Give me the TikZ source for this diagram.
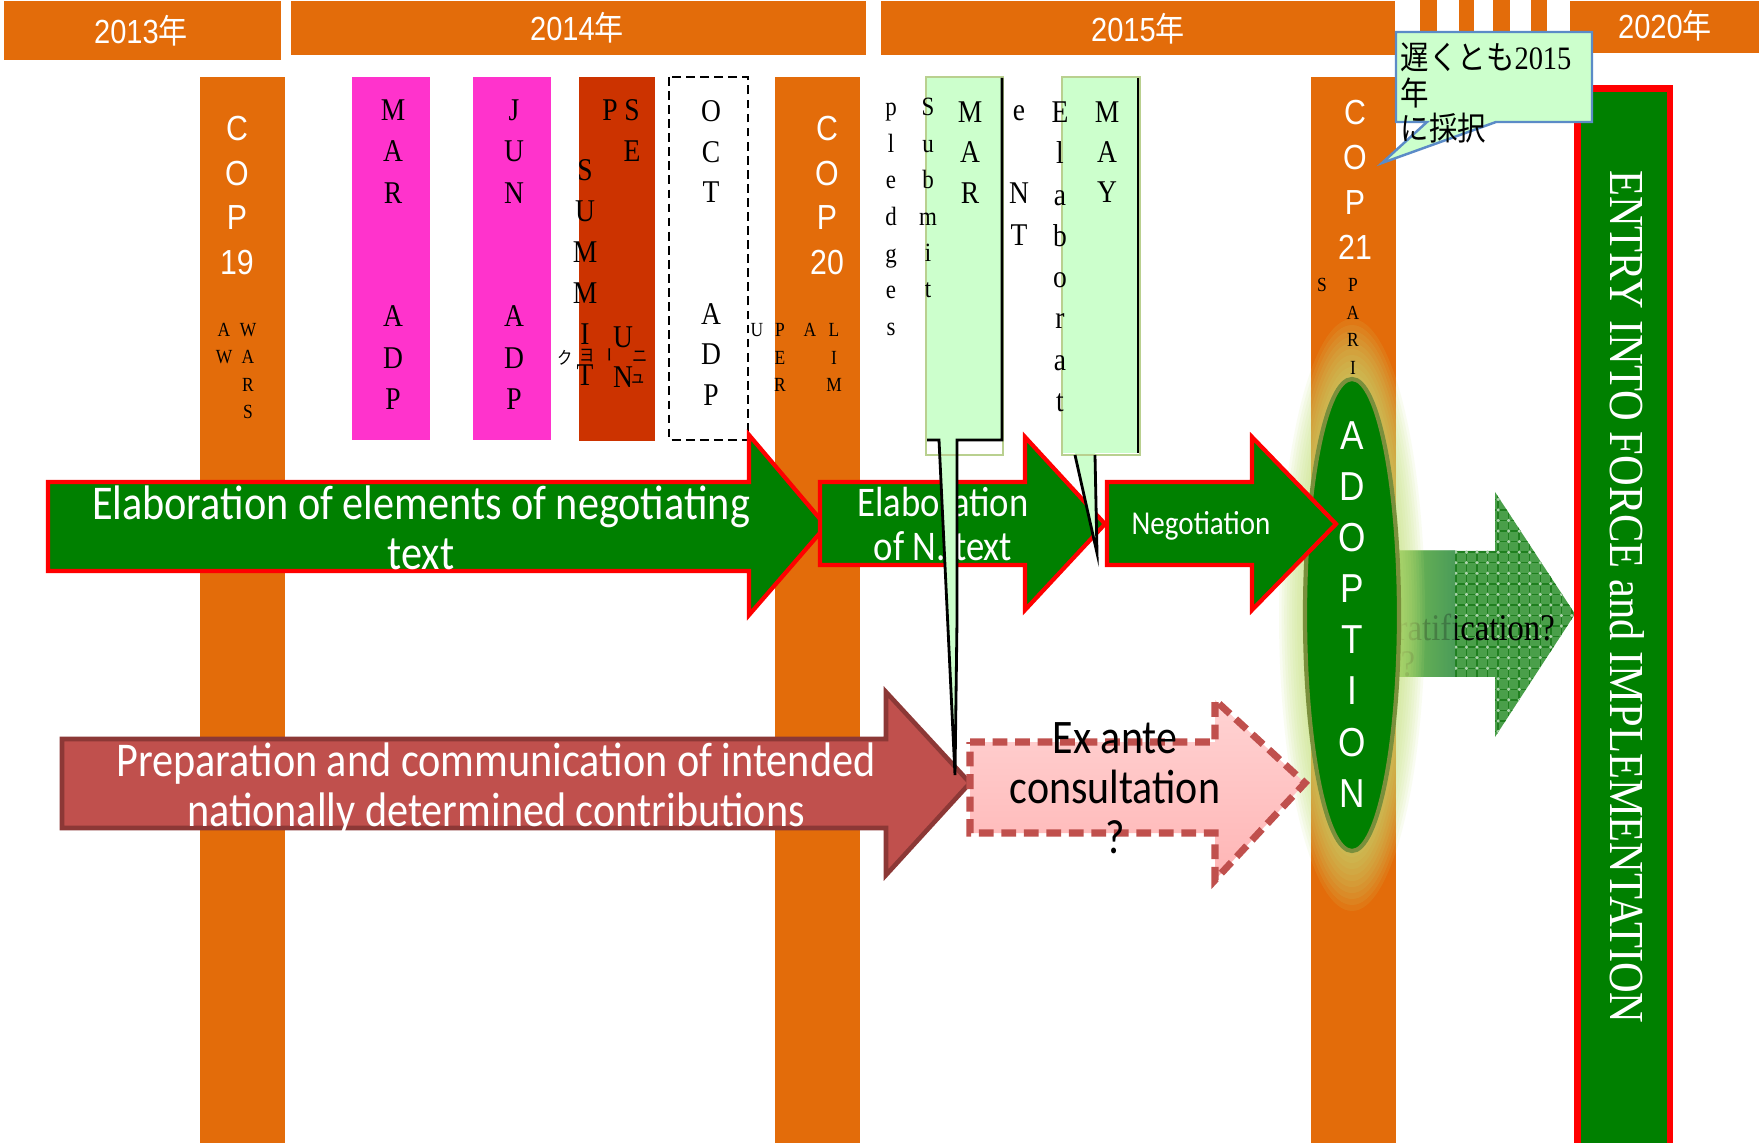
\documentclass[tikz,border=0pt]{standalone}
\usepackage{fontspec}
\setmainfont{Liberation Serif}[FakeStretch=0.87]
\newfontfamily\sansf{Liberation Sans}[FakeStretch=0.87]
\newfontfamily\calib{Carlito}[FakeStretch=0.87]
\newfontfamily\jpf{Noto Sans CJK JP}[FakeStretch=0.87]
\usetikzlibrary{patterns}

\definecolor{barorange}{HTML}{E36C0A}
\definecolor{adppink}{HTML}{FF33CC}
\definecolor{summitred}{HTML}{CC3300}
\definecolor{dkgreen}{HTML}{008000}
\definecolor{paleg}{HTML}{CCFFCC}
\definecolor{calloutrim}{HTML}{B9D08F}
\definecolor{indcred}{HTML}{C0504D}
\definecolor{indcedge}{HTML}{8C3836}
\definecolor{noteblue}{HTML}{5B8BC7}
\definecolor{ellrim}{HTML}{7A8F3C}
\definecolor{glowg}{HTML}{C6E37A}
\definecolor{ratgreen}{HTML}{4A9F4A}
\definecolor{gridgreen}{HTML}{1F7F1F}
\definecolor{ratlight}{HTML}{8DCB55}
\definecolor{ratdark}{HTML}{4B9B5E}
\definecolor{pinktop}{HTML}{FFD3D3}
\definecolor{pinkbot}{HTML}{FFB5B5}

% a vertical column of single characters: style, name prefix, x, first baseline, step, list
\newcommand{\lettercol}[6]{%
  \foreach \c [count=\k from 0] in {#6} {\node[#1] (#2\k) at (#3, {#4+\k*#5}) {\c};}}

\begin{document}
\begin{tikzpicture}[x=0.01cm, y=-0.01cm,
  hdr/.style={inner sep=0, anchor=base, text=white, font=\sansf\fontsize{9.5}{11}\selectfont},
  capl/.style={inner sep=0, anchor=base, font=\fontsize{9}{10}\selectfont},
  lowl/.style={inner sep=0, anchor=base, font=\fontsize{7.5}{9}\selectfont},
  tinyl/.style={inner sep=0, anchor=base, font=\fontsize{5.7}{7}\selectfont},
  copl/.style={inner sep=0, anchor=base, text=white, font=\sansf\fontsize{9.9}{11}\selectfont},
  adl/.style={inner sep=0, anchor=base, text=white, font=\sansf\fontsize{11.5}{13}\selectfont},
  cjks/.style={inner sep=0, font=\jpf\fontsize{5}{6}\selectfont},
  greenarrow/.style={fill=dkgreen, draw=red, line width=1.2pt, line join=miter},
  arrowtext/.style={inner sep=0, text=white, align=center},
]
\useasboundingbox (0,0) rectangle (1760,1143);
\fill[white] (0,0) rectangle (1760,1143);

% year headers
\fill[barorange] (4,1) rectangle (281,60);
\fill[barorange] (291,1) rectangle (866,55);
\fill[barorange] (881,1) rectangle (1395,55);
\fill[barorange] (1570,1) rectangle (1759,53);
\foreach \xa/\xb in {1420/1437,1459/1474,1493/1510,1531/1547}
  \fill[barorange] (\xa,0) rectangle (\xb,45);
\node[hdr] (y2013) at (141,44) {2013{\jpf 年}};
\node[hdr] (y2014) at (577,41) {2014{\jpf 年}};
\node[hdr] (y2015) at (1138,42) {2015{\jpf 年}};
\node[hdr] (y2020) at (1665,39) {2020{\jpf 年}};

% COP columns
\fill[barorange] (200,77) rectangle (285,1143);
\fill[barorange] (775,77) rectangle (860,1143);
\fill[barorange] (1311,77) rectangle (1396,1143);

% meeting boxes
\fill[adppink] (352,77) rectangle (430,440);
\fill[adppink] (473,77) rectangle (551,440);
\fill[summitred] (579,77) rectangle (655,441);
\draw[black, line width=0.6pt, dash pattern=on 2.5pt off 1.5pt] (669,77) rectangle (748,440);

% ratification arrow
\fill[ratgreen] (1390,551) -- (1495,551) -- (1495,492) -- (1575,614) -- (1495,737) -- (1495,677) -- (1390,677) -- cycle;
\fill[pattern=grid, pattern color=gridgreen] (1455,551) -- (1495,551) -- (1495,492) -- (1575,614) -- (1495,737) -- (1495,677) -- (1455,677) -- cycle;
\fill[pattern=dots, pattern color=white!55!ratgreen] (1455,551) -- (1495,551) -- (1495,492) -- (1575,614) -- (1495,737) -- (1495,677) -- (1455,677) -- cycle;
\node[inner sep=0, anchor=base west, font=\fontsize{10.7}{12}\selectfont] (ratif) at (1396,640) {ratification?};
\node[inner sep=0, anchor=base west, font=\fontsize{10.7}{12}\selectfont] (ratifq) at (1400,676) {?};
\shade[left color=ratlight, right color=ratdark, fill opacity=0.75] (1390,551) rectangle (1455,677);

% glow and adoption ellipse
\foreach \g in {1,...,10}
  \fill[glowg, opacity=0.1] (1352,615) ellipse ({47+2.6*\g} and {236+6*\g});
\draw[fill=dkgreen, draw=ellrim, line width=1.2pt] (1352,615) ellipse (47 and 236);

% process arrows
\draw[greenarrow] (48,482) -- (749,482) -- (749,435) -- (826,526) -- (749,615) -- (749,571) -- (48,571) -- cycle;
\draw[greenarrow] (820,482) -- (1025,482) -- (1025,437) -- (1105,524) -- (1025,610) -- (1025,565) -- (820,565) -- cycle;
\draw[greenarrow] (1107,482) -- (1252,482) -- (1252,437) -- (1336,524) -- (1252,610) -- (1252,565) -- (1107,565) -- cycle;
\draw[fill=indcred, draw=indcedge, line width=1.3pt, line join=miter] (62,739) -- (886,739) -- (886,692) -- (970,783) -- (886,875) -- (886,828) -- (62,828) -- cycle;
\draw[top color=pinktop, bottom color=pinkbot, draw=indcred, line width=2pt, dash pattern=on 4.2pt off 2.2pt, line join=miter]
  (970,742) -- (1215,742) -- (1215,700) -- (1305,783) -- (1215,880) -- (1215,833) -- (970,833) -- cycle;

\node[arrowtext, font=\calib\fontsize{13.8}{14.2}\selectfont] (elab) at (421,528) {Elaboration of elements of negotiating\\text};
\node[arrowtext, font=\calib\fontsize{12}{12.5}\selectfont] (elabN) at (943,524) {Elaboration\\of N. text};
\node[arrowtext, font=\calib\fontsize{9.5}{11}\selectfont] (nego) at (1201,526) {Negotiation};
\node[arrowtext, font=\calib\fontsize{13.8}{14.2}\selectfont] (indc) at (496,789) {Preparation and communication of intended\\nationally determined contributions};
\node[inner sep=0, align=center, font=\calib\fontsize{13.7}{14.2}\selectfont] (exante) at (1115,788) {Ex ante\\consultation\\?};

% callouts for the March and May sessions
\fill[paleg] (926,77) -- (1002,77) -- (1002,440) -- (957,440) -- (957,620) -- (955,775) -- (939,440) -- (926,440) -- cycle;
\draw[calloutrim, line width=0.8pt] (926,77) rectangle (1003,455);
\draw[black, line width=0.8pt] (1002,78) -- (1002,440) -- (957,440) -- (957,620) -- (955,775) -- (939,440) -- (927,440);
\fill[paleg] (1062,77) -- (1138,77) -- (1138,453) -- (1095,453) -- (1097,553) -- (1075,453) -- (1062,453) -- cycle;
\draw[calloutrim, line width=0.8pt] (1062,77) rectangle (1140,455);
\draw[black, line width=0.8pt] (1138,78) -- (1138,453);
\draw[black, line width=0.8pt] (1075,455) -- (1097,553) -- (1095,455);

% stacked labels
\lettercol{copl}{copA}{237}{140.5}{44.7}{C,O,P,19}
\lettercol{copl}{copB}{827}{140.5}{44.7}{C,O,P,20}
\lettercol{copl}{copC}{1355}{124.5}{45}{C,O,P,21}
\lettercol{tinyl}{wsA}{224}{336.6}{27}{A,W}
\lettercol{tinyl}{wsB}{248}{336.6}{27.3}{W,A,R,S}
\node[tinyl] (peU) at (757,336.6) {U};
\lettercol{tinyl}{pe}{780}{336.6}{27.5}{P,E,R}
\node[tinyl] (liA) at (810,336.6) {A};
\lettercol{tinyl}{li}{834}{336.6}{27.5}{L,I,M}
\node[tinyl] (paS) at (1322,291.6) {S};
\lettercol{tinyl}{pa}{1353}{291.6}{27.7}{P,A,R,I}

\lettercol{capl}{marA}{393}{120.5}{41.3}{M,A,R,{},{},A,D,P}
\lettercol{capl}{jun}{514}{120.5}{41.3}{J,U,N,{},{},A,D,P}
\lettercol{capl}{oct}{711}{122}{40.5}{O,C,T,{},{},A,D,P}
\node[capl] (sepP) at (610,120.5) {P};
\lettercol{capl}{sep}{632}{120.5}{41.5}{S,E}
\lettercol{capl}{sum}{585}{180.5}{41}{S,U,M,M,I,T}
\lettercol{capl}{un}{623}{347.5}{40}{U,N}
\node[cjks] (nyA) at (565,358) {ク};
\node[cjks] (nyB) at (587,356) {ヨ};
\node[cjks, rotate=90] (nyC) at (613,355) {ー};
\node[cjks] (nyD) at (640,357) {ニ};
\node[cjks] (nyE) at (638,379) {ュ};

\lettercol{lowl}{pl}{891}{115.5}{36.7}{p,l,e,d,g,e,s}
\lettercol{lowl}{sb}{928}{116}{36.4}{S,u,b,m,i,t}
\lettercol{capl}{marB}{970}{122.5}{40.5}{M,A,R}
\lettercol{capl}{ent}{1019}{121}{41.5}{e,{},N,T}
\lettercol{capl}{elb}{1060}{122.5}{41.3}{E,l,a,b,o,r,a,t}
\lettercol{capl}{may}{1107}{122.5}{40}{M,A,Y}

% entry into force column
\fill[red] (1574,85) rectangle (1673,1143);
\fill[dkgreen] (1581,92) rectangle (1667,1143);
\node[rotate=-90, inner sep=0, text=white, font=\fontsize{13.9}{15}\selectfont] (entry) at (1627,597) {ENTRY INTO FORCE and IMPLEMENTATION};

% adoption deadline note
\draw[fill=paleg, draw=noteblue, line width=0.7pt] (1396,32) -- (1592,32) -- (1592,122) -- (1496,122) -- (1382,163) -- (1427,122) -- (1396,122) -- cycle;
\node[anchor=west, align=left, inner sep=0, font=\jpf\fontsize{9.3}{10.1}\selectfont] (note) at (1400,93.5) {遅くとも{\rmfamily 2015}\\年\\に採択};

% adoption letters
\lettercol{adl}{ad}{1352}{449.5}{51.1}{A,D,O,P,T,I,O,N}
\end{tikzpicture}
\end{document}
